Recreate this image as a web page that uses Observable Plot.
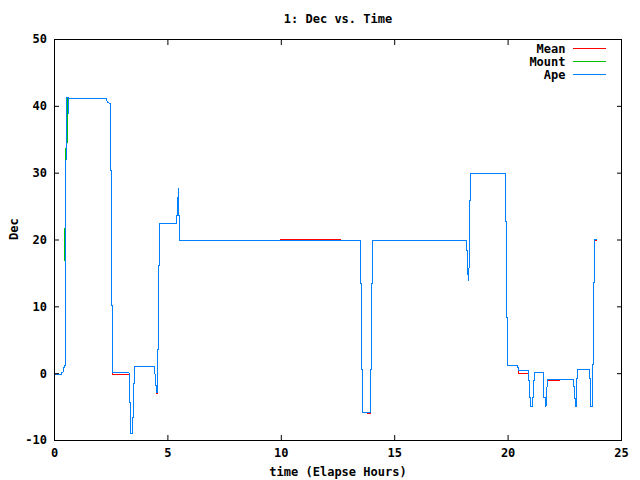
<!DOCTYPE html>
<html><head><meta charset="utf-8">
<script src="https://cdn.jsdelivr.net/npm/d3@7"></script>
<script src="https://cdn.jsdelivr.net/npm/@observablehq/plot@0.6"></script>
<style>body{margin:0;background:#fff} svg{display:block}</style>
</head><body><div id="chart"></div>
<script>
const titleText = "1: Dec vs. Time";
const xLabel = "time (Elapse Hours)";
const yLabel = "Dec";
const seriesNames = ["Mean", "Mount", "Ape"];
const seriesColors = ["#ff0000", "#00c000", "#0080ff"];
const xTicks = [0, 5, 10, 15, 20, 25];
const yTicks = [-10, 0, 10, 20, 30, 40, 50];

// [time (h), Dec]
const meanPts = [[0.0,-0.17],[0.31,-0.17],[0.33,0.22],[0.375,0.22],[0.39,0.85],[0.43,0.85],[0.44,1.22],[0.485,1.22],[0.494,21.42],[0.52,41.1],[2.273,41.1],[2.317,40.8],[2.361,40.58],[2.449,40.43],[2.471,30.4],[2.515,30.4],[2.524,10.2],[2.545,10.2],[2.551,-0.05],[3.301,-0.05],[3.31,-4.36],[3.341,-4.36],[3.345,-9.0],[3.451,-9.0],[3.455,-6.51],[3.486,-6.51],[3.495,-1.43],[3.517,-1.43],[3.522,1.07],[4.391,1.07],[4.4,-0.02],[4.435,-0.02],[4.444,-1.77],[4.479,-1.77],[4.488,-2.97],[4.545,-2.97],[4.55,3.57],[4.581,3.57],[4.585,16.19],[4.625,16.19],[4.629,22.43],[5.375,22.43],[5.38,23.71],[5.463,23.85],[5.507,23.71],[5.512,19.88],[9.95,19.88],[9.955,20.03],[12.63,20.03],[12.635,19.88],[13.495,19.88],[13.499,13.54],[13.539,13.54],[13.544,0.62],[13.57,0.62],[13.575,-5.86],[13.79,-5.86],[13.795,-6.01],[13.937,-6.01],[13.941,0.62],[13.981,0.62],[13.985,13.54],[14.012,13.54],[14.016,19.88],[18.173,19.88],[18.178,18.43],[18.204,18.43],[18.209,15.44],[18.23,15.44],[18.235,13.94],[18.275,13.94],[18.279,17.94],[18.301,17.94],[18.305,25.91],[18.345,25.91],[18.35,29.91],[19.894,29.91],[19.899,22.77],[19.925,22.77],[19.929,8.45],[19.978,8.45],[19.982,1.22],[20.424,1.22],[20.428,0.97],[20.463,0.97],[20.468,-0.02],[20.909,-0.02],[20.914,-1.02],[20.949,-1.02],[20.953,-3.52],[20.993,-3.52],[20.997,-4.87],[21.086,-4.87],[21.09,-3.52],[21.125,-3.52],[21.13,-1.02],[21.169,-1.02],[21.174,0.13],[21.571,0.13],[21.575,-3.52],[21.655,-3.52],[21.659,-4.87],[21.673,-4.87],[21.677,-2.02],[21.717,-2.02],[21.721,-1.02],[21.743,-1.07],[22.25,-1.07],[22.255,-0.92],[22.895,-0.92],[22.899,-1.87],[22.935,-1.87],[22.939,-3.76],[22.979,-3.76],[22.983,-4.87],[23.01,-4.87],[23.014,-0.68],[23.067,-0.68],[23.072,0.58],[23.575,0.58],[23.579,-0.68],[23.627,-0.68],[23.632,-4.87],[23.733,-4.87],[23.738,1.33],[23.773,1.33],[23.777,13.69],[23.817,13.69],[23.822,19.88],[23.91,19.88]];

const mountPts = [[0.02,-0.12],[0.31,-0.12],[0.33,0.22],[0.375,0.22],[0.39,0.85],[0.43,0.85],[0.44,1.22],[0.485,1.22],[0.49,16.78],[0.462,16.9],[0.462,21.27],[0.511,34.59],[0.56,34.6],[0.56,41.32],[0.596,41.32],[0.609,38.97],[0.631,38.97],[0.64,41.22],[2.273,41.22],[2.317,40.8],[2.361,40.58],[2.449,40.43],[2.471,30.4],[2.515,30.4],[2.524,10.2],[2.545,10.2],[2.551,0.1],[3.301,0.1],[3.31,-4.36],[3.341,-4.36],[3.345,-9.0],[3.451,-9.0],[3.455,-6.51],[3.486,-6.51],[3.495,-1.43],[3.517,-1.43],[3.522,1.07],[4.391,1.07],[4.4,-0.02],[4.435,-0.02],[4.444,-1.77],[4.479,-1.77],[4.488,-2.86],[4.545,-2.86],[4.55,3.57],[4.581,3.57],[4.585,16.19],[4.625,16.19],[4.629,22.43],[5.375,22.43],[5.38,23.71],[5.419,23.71],[5.424,26.41],[5.441,23.71],[5.463,27.66],[5.472,23.71],[5.507,23.71],[5.512,19.88],[13.495,19.88],[13.499,13.54],[13.539,13.54],[13.544,0.62],[13.57,0.62],[13.575,-5.86],[13.937,-5.86],[13.941,0.62],[13.981,0.62],[13.985,13.54],[14.012,13.54],[14.016,19.88],[18.173,19.88],[18.178,18.43],[18.204,18.43],[18.209,15.44],[18.23,15.44],[18.235,13.94],[18.275,13.94],[18.279,17.94],[18.301,17.94],[18.305,25.91],[18.345,25.91],[18.35,29.91],[19.894,29.91],[19.899,22.77],[19.925,22.77],[19.929,8.45],[19.978,8.45],[19.982,1.22],[20.424,1.22],[20.428,0.97],[20.463,0.97],[20.468,0.47],[20.909,0.47],[20.914,-1.02],[20.949,-1.02],[20.953,-3.52],[20.993,-3.52],[20.997,-4.87],[21.086,-4.87],[21.09,-3.52],[21.125,-3.52],[21.13,-1.02],[21.169,-1.02],[21.174,0.13],[21.571,0.13],[21.575,-3.52],[21.655,-3.52],[21.659,-4.87],[21.673,-4.87],[21.677,-2.02],[21.717,-2.02],[21.721,-1.02],[21.743,-1.02],[21.748,-0.92],[22.895,-0.92],[22.899,-1.87],[22.935,-1.87],[22.939,-3.76],[22.979,-3.76],[22.983,-4.87],[23.01,-4.87],[23.014,-0.68],[23.067,-0.68],[23.072,0.58],[23.575,0.58],[23.579,-0.68],[23.627,-0.68],[23.632,-4.87],[23.733,-4.87],[23.738,1.33],[23.773,1.33],[23.777,13.69],[23.817,13.69],[23.822,20.03],[23.91,20.03]];

const apePts = [[0.02,-0.12],[0.31,-0.12],[0.33,0.22],[0.375,0.22],[0.39,0.85],[0.43,0.85],[0.44,1.22],[0.485,1.22],[0.494,21.42],[0.52,41.32],[0.596,41.32],[0.609,38.97],[0.631,38.97],[0.64,41.22],[2.273,41.22],[2.317,40.8],[2.361,40.58],[2.449,40.43],[2.471,30.4],[2.515,30.4],[2.524,10.2],[2.545,10.2],[2.551,0.1],[3.301,0.1],[3.31,-4.36],[3.341,-4.36],[3.345,-9.0],[3.451,-9.0],[3.455,-6.51],[3.486,-6.51],[3.495,-1.43],[3.517,-1.43],[3.522,1.07],[4.391,1.07],[4.4,-0.02],[4.435,-0.02],[4.444,-1.77],[4.479,-1.77],[4.488,-2.86],[4.545,-2.86],[4.55,3.57],[4.581,3.57],[4.585,16.19],[4.625,16.19],[4.629,22.43],[5.375,22.43],[5.38,23.71],[5.419,23.71],[5.424,26.41],[5.441,23.71],[5.463,27.66],[5.472,23.71],[5.507,23.71],[5.512,19.88],[13.495,19.88],[13.499,13.54],[13.539,13.54],[13.544,0.62],[13.57,0.62],[13.575,-5.86],[13.937,-5.86],[13.941,0.62],[13.981,0.62],[13.985,13.54],[14.012,13.54],[14.016,19.88],[18.173,19.88],[18.178,18.43],[18.204,18.43],[18.209,15.44],[18.23,15.44],[18.235,13.94],[18.275,13.94],[18.279,17.94],[18.301,17.94],[18.305,25.91],[18.345,25.91],[18.35,29.91],[19.894,29.91],[19.899,22.77],[19.925,22.77],[19.929,8.45],[19.978,8.45],[19.982,1.22],[20.424,1.22],[20.428,0.97],[20.463,0.97],[20.468,0.47],[20.909,0.47],[20.914,-1.02],[20.949,-1.02],[20.953,-3.52],[20.993,-3.52],[20.997,-4.87],[21.086,-4.87],[21.09,-3.52],[21.125,-3.52],[21.13,-1.02],[21.169,-1.02],[21.174,0.13],[21.571,0.13],[21.575,-3.52],[21.655,-3.52],[21.659,-4.87],[21.673,-4.87],[21.677,-2.02],[21.717,-2.02],[21.721,-1.02],[21.743,-1.02],[21.748,-0.92],[22.895,-0.92],[22.899,-1.87],[22.935,-1.87],[22.939,-3.76],[22.979,-3.76],[22.983,-4.87],[23.01,-4.87],[23.014,-0.68],[23.067,-0.68],[23.072,0.58],[23.575,0.58],[23.579,-0.68],[23.627,-0.68],[23.632,-4.87],[23.733,-4.87],[23.738,1.33],[23.773,1.33],[23.777,13.69],[23.817,13.69],[23.822,20.03],[23.91,20.03]];

const seriesData = [meanPts, mountPts, apePts];

const chart = Plot.plot({
  width: 640,
  height: 480,
  marginLeft: 54,
  marginRight: 19,
  marginTop: 39,
  marginBottom: 40,
  style: {fontFamily: "'DejaVu Sans Mono', monospace", fontSize: "12px", fontWeight: "bold", background: "#fff", color: "#000"},
  x: {domain: [0, 25], nice: false},
  y: {domain: [-10, 50], nice: false},
  marks: [
    ...seriesData.map((pts, i) => Plot.line(pts, {x: d => d[0], y: d => d[1], stroke: seriesColors[i], strokeWidth: 1, curve: "linear", shapeRendering: "crispEdges"})),
    Plot.frame({stroke: "#000", strokeWidth: 1, shapeRendering: "crispEdges"}),
    Plot.axisX(xTicks, {anchor: "bottom", tickSize: -5, tickPadding: 13, label: null, tickFormat: d => String(d)}),
    Plot.axisX(xTicks, {anchor: "top", tickSize: -5, label: null, tickFormat: () => ""}),
    Plot.axisY(yTicks, {anchor: "left", tickSize: -5, tickPadding: 12.5, label: null, tickFormat: d => String(d)}),
    Plot.axisY(yTicks, {anchor: "right", tickSize: -5, label: null, tickFormat: () => ""}),
    Plot.text([titleText], {frameAnchor: "top", dy: -20, lineAnchor: "middle"}),
    Plot.text([xLabel], {frameAnchor: "bottom", dy: 32, lineAnchor: "middle"}),
    Plot.text([yLabel], {frameAnchor: "left", dx: -40, rotate: -90, lineAnchor: "middle"}),
    ...seriesNames.map((name, i) => Plot.text([name], {frameAnchor: "top-right", dx: -56, dy: 10 + 13 * i, textAnchor: "end", lineAnchor: "middle"}))
  ]
});

// legend key lines, placed relative to the plot frame
const xRange = chart.scale("x").range, yRange = chart.scale("y").range;
const frameRight = Math.max(...xRange), frameTop = Math.min(...yRange);
const svgSel = d3.select(chart);
seriesNames.forEach((name, i) => {
  const yy = Math.round(frameTop + 10 + 13 * i) - 0.5;
  svgSel.append("line")
    .attr("x1", frameRight - 48).attr("x2", frameRight - 15)
    .attr("y1", yy).attr("y2", yy)
    .attr("stroke", seriesColors[i]).attr("stroke-width", 1)
    .attr("shape-rendering", "crispEdges");
});
document.getElementById("chart").appendChild(chart);
</script>
</body></html>
